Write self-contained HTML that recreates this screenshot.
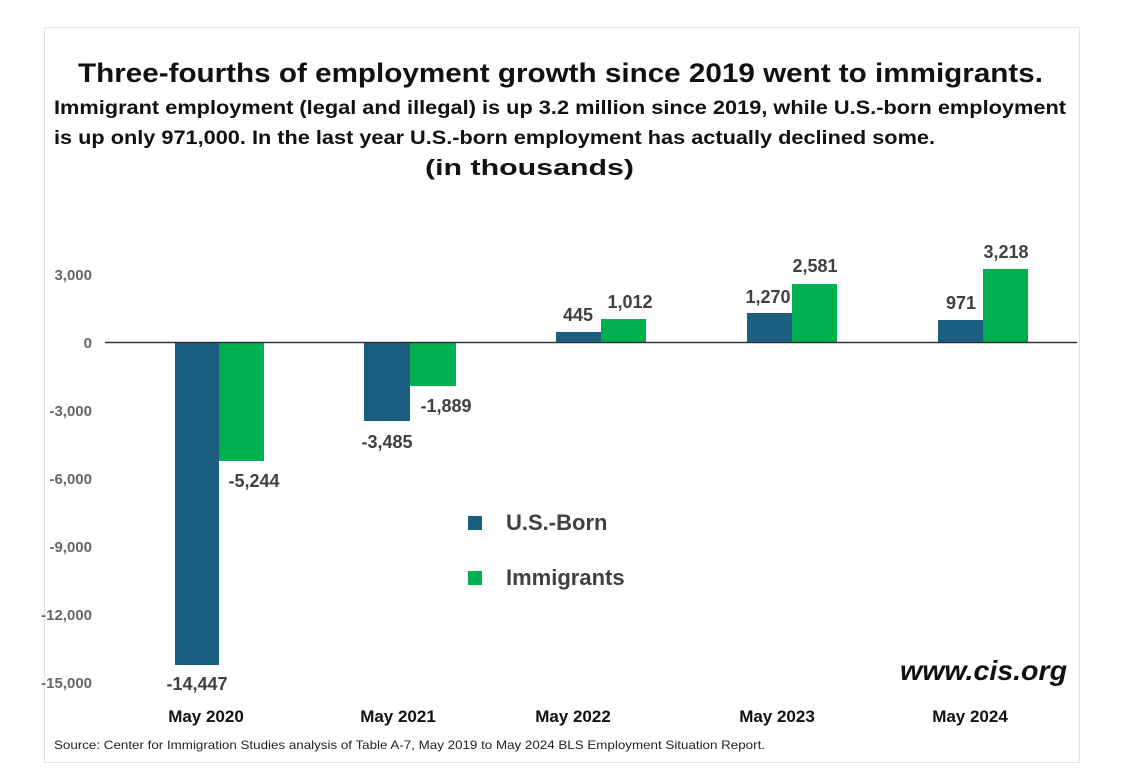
<!DOCTYPE html>
<html><head><meta charset="utf-8"><style>
html,body{margin:0;padding:0;background:#fff;}
svg{display:block;font-family:"Liberation Sans",sans-serif;}
</style></head><body>
<svg width="1127" height="783" viewBox="0 0 1127 783">
<rect x="0" y="0" width="1127" height="783" fill="#fff"/>
<rect x="44.5" y="27.5" width="1035" height="735" fill="#fff" stroke="#e3e3e3" stroke-width="1"/>
<g font-weight="bold" fill="#111">
<text x="78" y="82" font-size="27" textLength="965" lengthAdjust="spacingAndGlyphs">Three-fourths of employment growth since 2019 went to immigrants.</text>
<text x="54" y="114" font-size="19" textLength="1012" lengthAdjust="spacingAndGlyphs">Immigrant employment (legal and illegal) is up 3.2 million since 2019, while U.S.-born employment</text>
<text x="54" y="144" font-size="19" textLength="881" lengthAdjust="spacingAndGlyphs">is up only 971,000.  In the last year U.S.-born employment has actually declined some.</text>
<text x="425" y="175" font-size="22" textLength="209" lengthAdjust="spacingAndGlyphs">(in thousands)</text>
</g>
<g font-size="15" font-weight="bold" fill="#666" text-anchor="end">
<text x="92" y="280">3,000</text>
<text x="92" y="348">0</text>
<text x="92" y="416">-3,000</text>
<text x="92" y="484">-6,000</text>
<text x="92" y="552">-9,000</text>
<text x="92" y="620">-12,000</text>
<text x="92" y="688">-15,000</text>
</g>
<g fill="#1a5e80">
<rect x="175" y="342" width="44" height="323"/>
<rect x="364" y="342" width="46" height="79"/>
<rect x="556" y="332" width="45" height="10"/>
<rect x="747" y="313" width="45" height="29"/>
<rect x="938" y="320" width="45" height="22"/>
</g>
<g fill="#00b050">
<rect x="219" y="342" width="45" height="119"/>
<rect x="410" y="342" width="46" height="44"/>
<rect x="601" y="319" width="45" height="23"/>
<rect x="792" y="284" width="45" height="58"/>
<rect x="983" y="269" width="45" height="73"/>
</g>
<line x1="105" y1="342.5" x2="1077" y2="342.5" stroke="#333" stroke-width="1.5"/>
<g font-size="18" font-weight="bold" fill="#404040" text-anchor="middle">
<text x="197" y="690">-14,447</text>
<text x="254" y="487">-5,244</text>
<text x="387" y="448">-3,485</text>
<text x="446" y="412">-1,889</text>
<text x="578" y="321">445</text>
<text x="630" y="308">1,012</text>
<text x="768" y="303">1,270</text>
<text x="815" y="272">2,581</text>
<text x="961" y="309">971</text>
<text x="1006" y="258">3,218</text>
</g>
<rect x="468" y="516" width="14" height="14" fill="#1a5e80"/>
<rect x="468" y="571" width="14" height="14" fill="#00b050"/>
<g font-size="22" font-weight="bold" fill="#404040">
<text x="506" y="530">U.S.-Born</text>
<text x="506" y="585">Immigrants</text>
</g>
<text x="900" y="680" font-size="28" font-weight="bold" font-style="italic" fill="#111" textLength="167" lengthAdjust="spacingAndGlyphs">www.cis.org</text>
<g font-size="17" font-weight="bold" fill="#111" text-anchor="middle">
<text x="206" y="722">May 2020</text>
<text x="398" y="722">May 2021</text>
<text x="573" y="722">May 2022</text>
<text x="777" y="722">May 2023</text>
<text x="970" y="722">May 2024</text>
</g>
<text x="54" y="749" font-size="12" fill="#222" textLength="711" lengthAdjust="spacingAndGlyphs">Source: Center for Immigration Studies analysis of Table A-7, May 2019 to May 2024 BLS Employment Situation Report.</text>
</svg>
</body></html>
